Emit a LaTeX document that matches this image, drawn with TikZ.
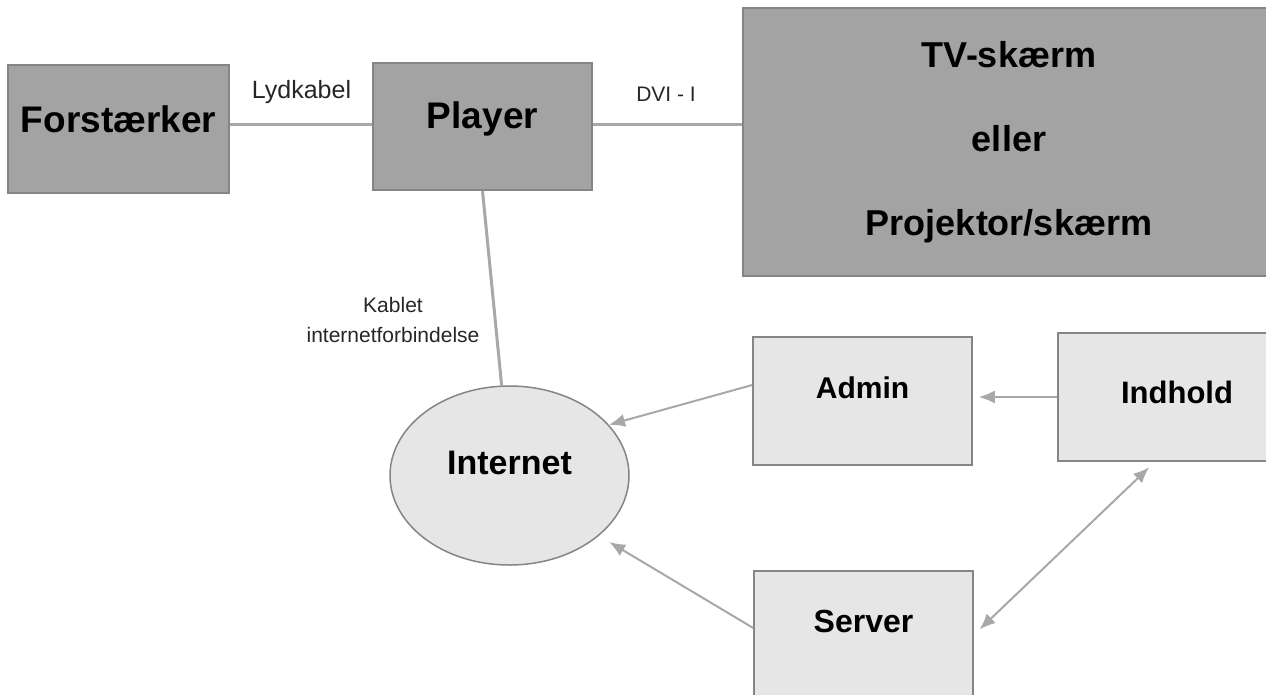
\documentclass[tikz,border=0pt]{standalone}
\usepackage{fontspec}
\setmainfont{Liberation Sans}
\usepackage{xcolor}
\usetikzlibrary{arrows.meta, shapes.geometric}

\definecolor{darkfill}{HTML}{A3A3A3}
\definecolor{lightfill}{HTML}{E6E6E6}
\definecolor{rim}{HTML}{858585}
\definecolor{wire}{HTML}{A8A8A8}

\begin{document}
\begin{tikzpicture}[x=1pt, y=-1pt]
		\tikzstyle{darkbox}=[draw=rim, line width=1.5pt, fill=darkfill, rectangle, inner sep=0pt, font=\fontsize{37}{44}\selectfont\bfseries]
		\tikzstyle{lightbox}=[draw=rim, line width=1.5pt, fill=lightfill, rectangle, inner sep=0pt, font=\fontsize{30}{36}\selectfont\bfseries]
		\tikzstyle{cable}=[draw=wire, line width=3pt]
		\tikzstyle{flow}=[draw=wire, line width=2pt, -{Latex[length=16pt, width=13pt]}]
		\tikzstyle{tag}=[inner sep=0pt, font=\fontsize{21}{30}\selectfont, text=black!85]
		\useasboundingbox (0, 0) rectangle (1266, 694);
		\clip (0, 0) rectangle (1266, 694);
		% top row
		\node[darkbox, minimum width=221pt, minimum height=128pt, text height=67pt, text depth=61pt] (forst) at (118.5, 129) {Forstærker};
		\node[darkbox, minimum width=219pt, minimum height=127pt, text height=65pt, text depth=62pt] (player) at (482.5, 126.5) {Player};
		\node[darkbox, minimum width=532pt, minimum height=268pt, align=center, font=\fontsize{36}{84}\selectfont\bfseries] (tv) at (1009, 142) {TV-skærm\\eller\\Projektor/skærm};
		% lower part
		\node[ellipse, draw=rim, line width=1.5pt, fill=lightfill, inner sep=0pt, minimum width=239pt, minimum height=179pt, text height=24pt, text depth=27pt, font=\fontsize{34}{40}\selectfont\bfseries] (internet) at (509.5, 475.5) {Internet};
		\node[lightbox, minimum width=219pt, minimum height=128pt, text height=61pt, text depth=67pt] (admin) at (862.5, 401) {Admin};
		\node[lightbox, minimum width=238pt, minimum height=128pt, text height=70pt, text depth=58pt, font=\fontsize{31}{36}\selectfont\bfseries] (indhold) at (1177, 397) {Indhold};
		\node[lightbox, minimum width=219pt, minimum height=140pt, text height=61pt, text depth=79pt, font=\fontsize{32}{38}\selectfont\bfseries] (server) at (863.5, 641) {Server};
		% cables
		\draw[cable] ([yshift=2pt]player.west -| forst.east) -- ([yshift=2pt]player.west);
		\draw[cable] ([yshift=2pt]player.east) -- ([yshift=2pt]player.east -| tv.west);
		\draw[cable] (player.south) -- (internet.95);
		\node[tag, anchor=base, font=\fontsize{25}{30}\selectfont] (lyd) at (301.5, 98) {Lydkabel};
		\node[tag, anchor=base] (dvi) at (666, 101) {DVI - I};
		\node[tag, align=center] (kabel) at (393, 320) {Kablet\\internetforbindelse};
		% data flow
		\draw[flow, shorten >=6pt] (indhold.west) -- (indhold.west -| admin.east);
		\draw[flow] ([yshift=16pt]admin.west) -- (internet.27);
		\draw[flow, shorten >=12pt] ([yshift=13pt]server.west) -- (internet.-34);
		\draw[flow, {Latex[length=16pt, width=13pt]}-{Latex[length=16pt, width=13pt]}, shorten <=8pt, shorten >=8pt] ([yshift=6pt]server.east) -- ([xshift=-22pt]indhold.south);
	\end{tikzpicture}
\end{document}
